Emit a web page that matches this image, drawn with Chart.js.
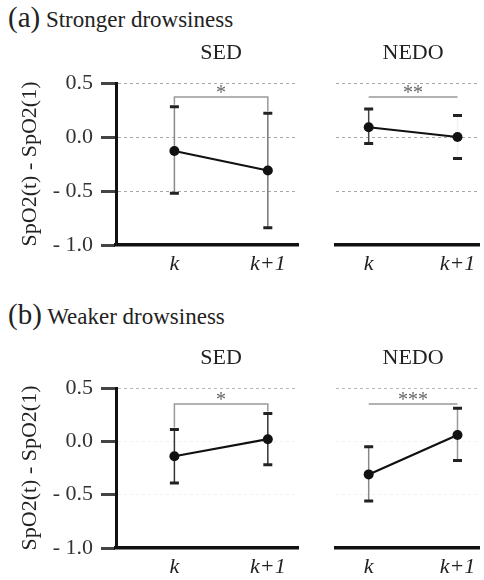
<!DOCTYPE html>
<html>
<head>
<meta charset="utf-8">
<script src="https://cdn.jsdelivr.net/npm/chart.js@4"></script>
<style>
    body{margin:0;background:#fff;width:484px;height:580px;position:relative;overflow:hidden;font-family:'Liberation Serif',serif;}
    canvas{position:absolute;}
    .head{position:absolute;left:8px;font-size:23px;color:#222;white-space:nowrap;line-height:30px;}
    .head span{font-size:29px;}
</style>
</head>
<body>
<div class="head" style="top:2px"><span>(a)</span> Stronger drowsiness</div>
<div class="head" style="top:299px"><span>(b)</span> Weaker drowsiness</div>
<canvas id="aSed" width="303" height="260" style="left:0;top:30px"></canvas>
<canvas id="aNedo" width="153" height="260" style="left:331px;top:30px"></canvas>
<canvas id="bSed" width="303" height="240" style="left:0;top:340px"></canvas>
<canvas id="bNedo" width="153" height="240" style="left:331px;top:340px"></canvas>
<script>
    //data
    const xLabels = ['k', 'k+1'];
    const yTickValues = [-1.0, -0.5, 0.0, 0.5];
    const panelNames = ['SED', 'NEDO'];

    // (a) stronger drowsiness
    const aSedMean = [-0.13, -0.31];
    const aSedUpper = [0.28, 0.22];
    const aSedLower = [-0.52, -0.84];
    const aNedoMean = [0.09, 0.00];
    const aNedoUpper = [0.26, 0.20];
    const aNedoLower = [-0.06, -0.20];

    // (b) weaker drowsiness
    const bSedMean = [-0.14, 0.02];
    const bSedUpper = [0.11, 0.26];
    const bSedLower = [-0.39, -0.22];
    const bNedoMean = [-0.31, 0.06];
    const bNedoUpper = [-0.05, 0.31];
    const bNedoLower = [-0.56, -0.18];

    // significance brackets: aSed, aNedo, bSed, bNedo
    const sigMarks = ['*', '**', '*', '***'];
    const sigLevels = [0.37, 0.37, 0.35, 0.35];

    const serifFont = '"Liberation Serif", serif';
    Chart.defaults.font.family = serifFont;

    //================================== PLUGIN =====================
    const decor = {
        id: 'decor',
        beforeDatasetsDraw(chart, args, opts) {
            const {ctx, scales: {x, y}} = chart;
            const ds = chart.data.datasets[0];
            ds.data.forEach((p, i) => {
                const px = x.getPixelForValue(p.x);
                const top = y.getPixelForValue(ds.upper[i]);
                const bot = y.getPixelForValue(ds.lower[i]);
                ctx.save();
                ctx.strokeStyle = opts.stem[i];
                ctx.lineWidth = 1.5;
                ctx.beginPath();
                ctx.moveTo(px, top);
                ctx.lineTo(px, bot);
                ctx.stroke();
                ctx.strokeStyle = '#222';
                ctx.lineWidth = 3;
                ctx.beginPath();
                ctx.moveTo(px - 4.5, top); ctx.lineTo(px + 4.5, top);
                ctx.moveTo(px - 4.5, bot); ctx.lineTo(px + 4.5, bot);
                ctx.stroke();
                ctx.restore();
            });
        },
        afterDatasetsDraw(chart, args, opts) {
            const {ctx, chartArea, scales: {x, y}} = chart;
            const ds = chart.data.datasets[0];
            const x0 = x.getPixelForValue(0), x1 = x.getPixelForValue(1);
            const ly = y.getPixelForValue(opts.level);
            ctx.save();
            ctx.strokeStyle = '#999';
            ctx.lineWidth = 1.5;
            ctx.beginPath();
            if (opts.drops) {
                ctx.moveTo(x0, y.getPixelForValue(ds.upper[0]) - 2);
                ctx.lineTo(x0, ly);
                ctx.lineTo(x1, ly);
                ctx.lineTo(x1, y.getPixelForValue(ds.upper[1]) - 2);
            } else {
                ctx.moveTo(x0, ly);
                ctx.lineTo(x1, ly);
            }
            ctx.stroke();
            ctx.fillStyle = '#666';
            ctx.font = '20px ' + serifFont;
            ctx.textAlign = 'center';
            ctx.textBaseline = 'middle';
            ctx.fillText(opts.mark, (x0 + x1) / 2, ly - 3);
            // panel title
            ctx.fillStyle = '#222';
            ctx.font = '22px ' + serifFont;
            ctx.fillText(opts.title, (x0 + x1) / 2, chartArea.top - 30);
            ctx.restore();
        }
    };

    function makePanel(id, o) {
        return new Chart(document.getElementById(id), {
            type: 'line',
            data: {
                datasets: [{
                    data: o.mean.map((v, i) => ({x: i, y: v})),
                    upper: o.upper,
                    lower: o.lower,
                    borderColor: '#111',
                    borderWidth: 2.2,
                    pointRadius: 5,
                    pointBackgroundColor: '#111',
                    pointBorderWidth: 0,
                    clip: false
                }]
            },
            options: {
                responsive: false,
                animation: false,
                layout: {padding: {top: o.padTop, left: 0, right: 0, bottom: 0}},
                plugins: {
                    legend: {display: false},
                    tooltip: {enabled: false},
                    decor: {mark: o.mark, level: o.level, drops: o.drops, title: o.title, stem: o.stem}
                },
                scales: {
                    x: {
                        type: 'linear',
                        min: o.xMin,
                        max: o.xMax,
                        afterBuildTicks: s => { s.ticks = xLabels.map((l, i) => ({value: i})); },
                        afterFit: s => { s.height = o.xHeight; },
                        grid: {display: false, drawTicks: false},
                        border: {display: true, color: '#111', width: 3.5},
                        ticks: {
                            padding: 6,
                            color: '#222',
                            font: {size: 22, style: 'italic'},
                            callback: v => xLabels[v]
                        }
                    },
                    y: {
                        min: -1,
                        max: 0.5,
                        afterBuildTicks: s => { s.ticks = yTickValues.map(v => ({value: v})); },
                        afterFit: s => { s.width = o.showY ? 116 : 0; },
                        grid: {
                            color: c => o.gridColor(c.tick ? c.tick.value : 0),
                            lineWidth: 1,
                            drawTicks: o.showY,
                            tickLength: 15,
                            tickColor: '#444',
                            tickWidth: 3,
                            tickBorderDash: []
                        },
                        border: {display: o.showY, color: '#111', width: 3, dash: [3, 3]},
                        ticks: {
                            display: o.showY,
                            padding: 8,
                            color: '#333',
                            font: {size: 22},
                            callback: v => v < 0 ? '- ' + Math.abs(v).toFixed(1) : v.toFixed(1)
                        },
                        title: {
                            display: o.showY,
                            text: 'SpO2(t) - SpO2(1)',
                            color: '#222',
                            font: {size: 22},
                            padding: {top: 17, bottom: 0}
                        }
                    }
                }
            },
            plugins: [decor]
        });
    }

    const gridTop = v => v === -1 ? 'rgba(0,0,0,0)' : '#a8a8a8';
    const gridBottom = v => v === -1 ? 'rgba(0,0,0,0)' : (v === 0.5 ? '#b8b8b8' : '#f1f1f1');

    makePanel('aSed', {
        mean: aSedMean, upper: aSedUpper, lower: aSedLower,
        title: panelNames[0], mark: sigMarks[0], level: sigLevels[0], drops: true,
        stem: ['#888', '#777'], showY: true, padTop: 53, xHeight: 45,
        xMin: -0.625, xMax: 1.323, gridColor: gridTop
    });
    makePanel('aNedo', {
        mean: aNedoMean, upper: aNedoUpper, lower: aNedoLower,
        title: panelNames[1], mark: sigMarks[1], level: sigLevels[1], drops: false,
        stem: ['#444', '#f2f2f2'], showY: false, padTop: 53, xHeight: 45,
        xMin: -0.368, xMax: 1.242, gridColor: gridTop
    });
    makePanel('bSed', {
        mean: bSedMean, upper: bSedUpper, lower: bSedLower,
        title: panelNames[0], mark: sigMarks[2], level: sigLevels[2], drops: true,
        stem: ['#333', '#333'], showY: true, padTop: 48, xHeight: 32,
        xMin: -0.625, xMax: 1.323, gridColor: gridBottom
    });
    makePanel('bNedo', {
        mean: bNedoMean, upper: bNedoUpper, lower: bNedoLower,
        title: panelNames[1], mark: sigMarks[3], level: sigLevels[3], drops: false,
        stem: ['#888', '#999'], showY: false, padTop: 48, xHeight: 32,
        xMin: -0.368, xMax: 1.242, gridColor: gridBottom
    });
</script>
</body>
</html>
